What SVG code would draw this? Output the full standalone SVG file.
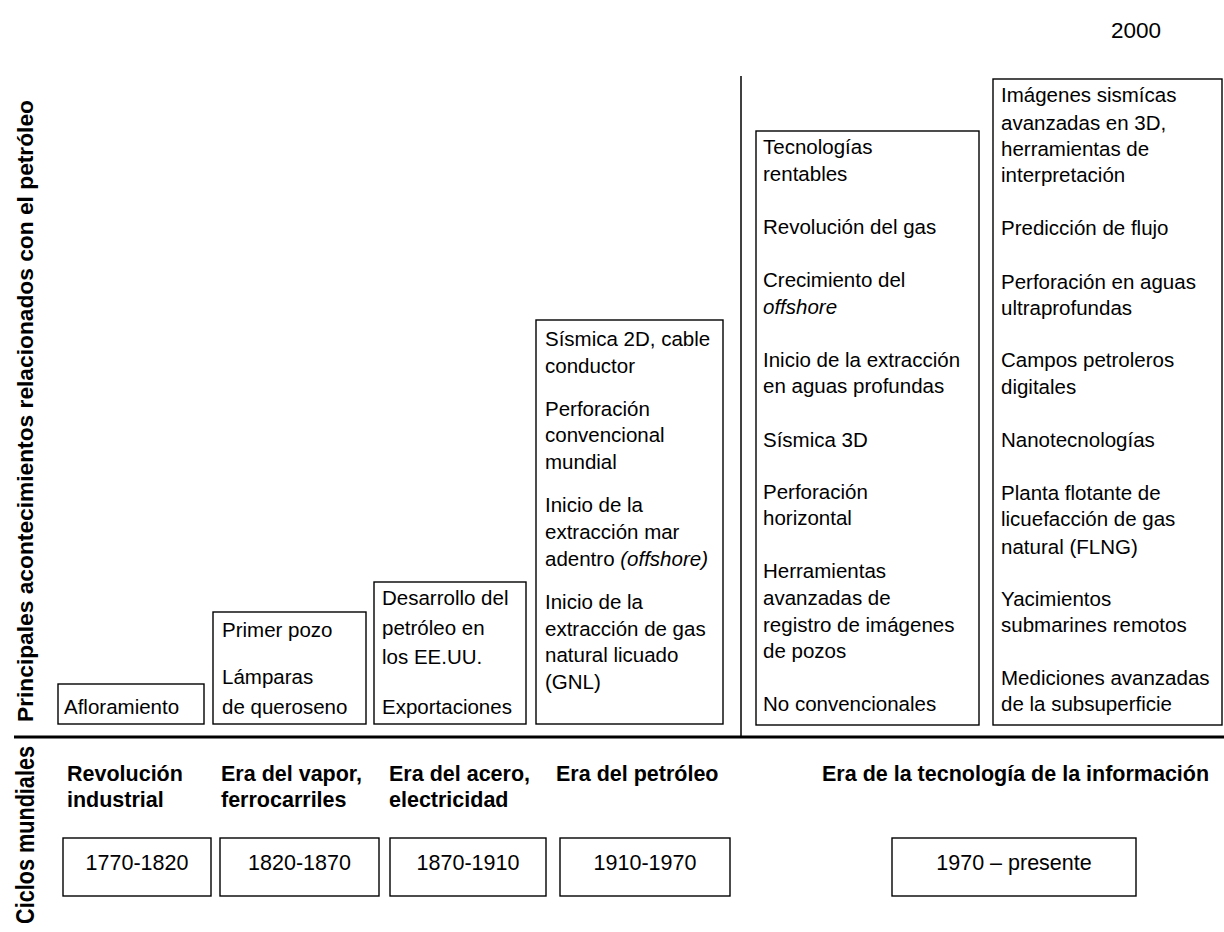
<svg xmlns="http://www.w3.org/2000/svg" width="1224" height="932" viewBox="0 0 1224 932">
<style>
text{font-family:"Liberation Sans",Arial,sans-serif;fill:#000}
.t{font-size:20.5px}
.b{font-size:21.5px;font-weight:bold}
.ax{font-size:22.5px;font-weight:bold}
.ax2{font-size:25px;font-weight:bold}
.d{font-size:21.5px;text-anchor:middle}
.box{fill:#fff;stroke:#000;stroke-width:1.4}
.i{font-style:italic}
</style>
<rect width="1224" height="932" fill="#fff"/>
<text class="t" x="1111" y="38" style="font-size:22.5px">2000</text>
<g id="axis-labels">
<text class="ax" transform="translate(33,411) rotate(-90)" text-anchor="middle" textLength="622" lengthAdjust="spacingAndGlyphs">Principales acontecimientos relacionados con el petróleo</text>
<text class="ax2" transform="translate(34,835) rotate(-90)" text-anchor="middle" textLength="178" lengthAdjust="spacingAndGlyphs">Ciclos mundiales</text>
</g>
<g id="connectors">
<line x1="741" y1="76" x2="741" y2="736" stroke="#000" stroke-width="1.5"/>
<line x1="14" y1="737" x2="1224" y2="737" stroke="#000" stroke-width="3"/>
</g>
<g id="n-aflor">
<rect class="box" x="58" y="684" width="146" height="40"/>
<text class="t" x="64" y="714">Afloramiento</text>
</g>
<g id="n-primer">
<rect class="box" x="213" y="612" width="153" height="112"/>
<text class="t" x="222" y="637">Primer pozo</text>
<text class="t" x="222" y="684">Lámparas</text>
<text class="t" x="222" y="714">de queroseno</text>
</g>
<g id="n-desarrollo">
<rect class="box" x="374" y="582" width="152" height="142"/>
<text class="t" x="382" y="605">Desarrollo del</text>
<text class="t" x="382" y="635">petróleo en</text>
<text class="t" x="382" y="664">los EE.UU.</text>
<text class="t" x="382" y="714">Exportaciones</text>
</g>
<g id="n-sismica2d">
<rect class="box" x="536" y="320" width="187" height="404"/>
<text class="t" x="545" y="346">Sísmica 2D, cable</text>
<text class="t" x="545" y="373">conductor</text>
<text class="t" x="545" y="416">Perforación</text>
<text class="t" x="545" y="442">convencional</text>
<text class="t" x="545" y="469">mundial</text>
<text class="t" x="545" y="512">Inicio de la</text>
<text class="t" x="545" y="539">extracción mar</text>
<text class="t" x="545" y="566">adentro <tspan class="i">(offshore)</tspan></text>
<text class="t" x="545" y="609">Inicio de la</text>
<text class="t" x="545" y="636">extracción de gas</text>
<text class="t" x="545" y="662">natural licuado</text>
<text class="t" x="545" y="689">(GNL)</text>
</g>
<g id="n-tecnologias">
<rect class="box" x="756" y="131" width="223" height="594"/>
<text class="t" x="763" y="154">Tecnologías</text>
<text class="t" x="763" y="181">rentables</text>
<text class="t" x="763" y="234">Revolución del gas</text>
<text class="t" x="763" y="287">Crecimiento del</text>
<text class="t i" x="763" y="314">offshore</text>
<text class="t" x="763" y="367">Inicio de la extracción</text>
<text class="t" x="763" y="393">en aguas profundas</text>
<text class="t" x="763" y="447">Sísmica 3D</text>
<text class="t" x="763" y="499">Perforación</text>
<text class="t" x="763" y="525">horizontal</text>
<text class="t" x="763" y="578">Herramientas</text>
<text class="t" x="763" y="605">avanzadas de</text>
<text class="t" x="763" y="632">registro de imágenes</text>
<text class="t" x="763" y="658">de pozos</text>
<text class="t" x="763" y="711">No convencionales</text>
</g>
<g id="n-imagenes">
<rect class="box" x="993" y="79" width="229" height="646"/>
<text class="t" x="1001" y="102">Imágenes sismícas</text>
<text class="t" x="1001" y="130">avanzadas en 3D,</text>
<text class="t" x="1001" y="156">herramientas de</text>
<text class="t" x="1001" y="182">interpretación</text>
<text class="t" x="1001" y="235">Predicción de flujo</text>
<text class="t" x="1001" y="289">Perforación en aguas</text>
<text class="t" x="1001" y="315">ultraprofundas</text>
<text class="t" x="1001" y="367">Campos petroleros</text>
<text class="t" x="1001" y="394">digitales</text>
<text class="t" x="1001" y="447">Nanotecnologías</text>
<text class="t" x="1001" y="500">Planta flotante de</text>
<text class="t" x="1001" y="526">licuefacción de gas</text>
<text class="t" x="1001" y="554">natural (FLNG)</text>
<text class="t" x="1001" y="606">Yacimientos</text>
<text class="t" x="1001" y="632">submarines remotos</text>
<text class="t" x="1001" y="685">Mediciones avanzadas</text>
<text class="t" x="1001" y="711">de la subsuperficie</text>
</g>
<g id="eras">
<text class="b" x="67" y="781">Revolución</text>
<text class="b" x="67" y="807">industrial</text>
<text class="b" x="221" y="781">Era del vapor,</text>
<text class="b" x="221" y="807">ferrocarriles</text>
<text class="b" x="389" y="781">Era del acero,</text>
<text class="b" x="389" y="807">electricidad</text>
<text class="b" x="556" y="781">Era del petróleo</text>
<text class="b" x="822" y="781">Era de la tecnología de la información</text>
</g>
<g id="n-1770">
<rect class="box" x="63" y="838" width="148" height="58"/>
<text class="d" x="137" y="870">1770-1820</text>
</g>
<g id="n-1820">
<rect class="box" x="220" y="838" width="159" height="58"/>
<text class="d" x="299.5" y="870">1820-1870</text>
</g>
<g id="n-1870">
<rect class="box" x="390" y="838" width="156" height="58"/>
<text class="d" x="468" y="870">1870-1910</text>
</g>
<g id="n-1910">
<rect class="box" x="560" y="838" width="170" height="58"/>
<text class="d" x="645" y="870">1910-1970</text>
</g>
<g id="n-1970">
<rect class="box" x="892" y="838" width="244" height="58"/>
<text class="d" x="1014" y="870">1970 – presente</text>
</g>
</svg>
